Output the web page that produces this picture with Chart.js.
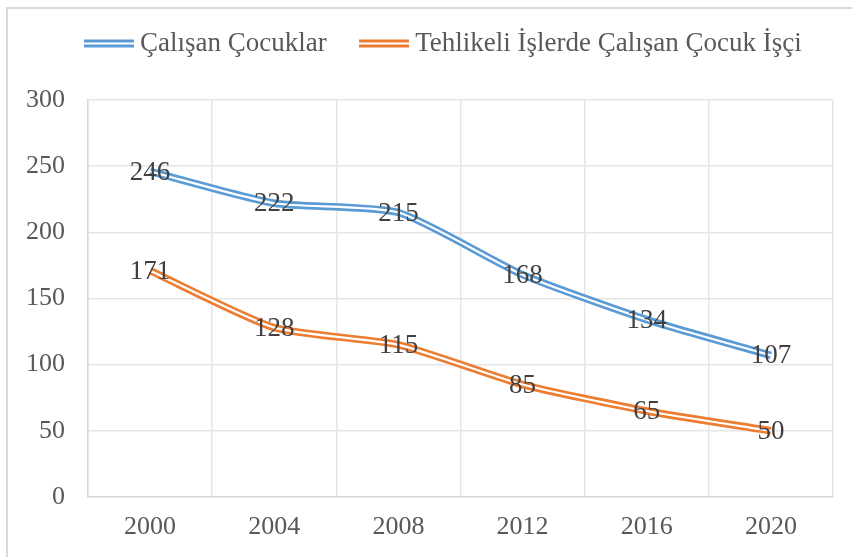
<!DOCTYPE html>
<html>
<head>
<meta charset="utf-8">
<script src="https://cdn.jsdelivr.net/npm/chart.js@4"></script>
<style>
html,body{margin:0;padding:0;background:#fff;}
#wrap{position:relative;width:852px;height:557px;}
</style>
</head>
<body>
<div id="wrap"><canvas id="c" width="852" height="557"></canvas></div>
<script>
const categories = ['2000', '2004', '2008', '2012', '2016', '2020'];
const seriesNames = ['Çalışan Çocuklar', 'Tehlikeli İşlerde Çalışan Çocuk İşçi'];
const calisanCocuklar = [246, 222, 215, 168, 134, 107];
const tehlikeliIsler = [171, 128, 115, 85, 65, 50];
const yTicks = [0, 50, 100, 150, 200, 250, 300];

const colors = ['#5b9bd5', '#ed7d31'];
const FONT = "'Liberation Serif', 'Times New Roman', serif";
const TENSION = 0.2;

function legendSwatch(color) {
  const c = document.createElement('canvas');
  c.width = 50; c.height = 10;
  const g = c.getContext('2d');
  g.fillStyle = color;
  g.fillRect(0, 1, 50, 3);
  g.fillRect(0, 6, 50, 3);
  return c;
}
const swatches = colors.map(legendSwatch);

const mainSets = [calisanCocuklar, tehlikeliIsler].map((d, i) => ({
  label: seriesNames[i], data: d, borderColor: colors[i], backgroundColor: colors[i],
  borderWidth: 7.5, pointRadius: 0, tension: TENSION, order: 2, fill: false, isMain: true
}));
const overlaySets = [calisanCocuklar, tehlikeliIsler].map((d, i) => ({
  label: '_ov' + i, data: d, borderColor: '#ffffff', borderWidth: 2.2,
  pointRadius: 0, tension: TENSION, order: 1, fill: false, isMain: false
}));

const bgPlugin = {
  id: 'bg',
  afterInit(chart) {
    const lg = chart.legend;
    if (lg) {
      const f = lg.fit.bind(lg);
      lg.fit = function () { f(); this.height = 100; };
    }
  },
  afterLayout(chart) {
    const lg = chart.legend;
    if (lg) {
      const dx = 35.5, dy = -10;
      lg.left += dx; lg.right += dx; lg.top += dy; lg.bottom += dy;
    }
  },
  beforeDraw(chart) {
    const ctx = chart.ctx;
    ctx.save();
    ctx.fillStyle = '#ffffff';
    ctx.fillRect(0, 0, chart.width, chart.height);
    ctx.fillStyle = '#d9d9d9';
    ctx.fillRect(6, 7, 2, chart.height - 7);
    ctx.fillRect(6, 7, chart.width - 6, 2);
    ctx.restore();
  }
};

const labelPlugin = {
  id: 'valueLabels',
  afterDatasetsDraw(chart) {
    const ctx = chart.ctx;
    ctx.save();
    ctx.font = '27px ' + FONT;
    ctx.fillStyle = '#404040';
    ctx.textAlign = 'center';
    ctx.textBaseline = 'middle';
    chart.data.datasets.forEach((ds, di) => {
      if (!ds.isMain) return;
      const meta = chart.getDatasetMeta(di);
      meta.data.forEach((pt, i) => {
        ctx.fillText(String(ds.data[i]), pt.x, pt.y + 1);
      });
    });
    ctx.restore();
  }
};

new Chart(document.getElementById('c'), {
  type: 'line',
  data: { labels: categories, datasets: [...mainSets, ...overlaySets] },
  plugins: [bgPlugin, labelPlugin],
  options: {
    responsive: false,
    animation: false,
    events: [],
    layout: { padding: { left: 16, right: 19, top: 0, bottom: 0 } },
    plugins: {
      tooltip: { enabled: false },
      legend: {
        position: 'top',
        align: 'start',
        labels: {
          font: { family: FONT, size: 27 },
          color: '#595959',
          padding: 40,
          usePointStyle: true,
          pointStyleWidth: 35,
          generateLabels(chart) {
            return chart.data.datasets.map((ds, i) => ({ ds, i }))
              .filter(o => o.ds.isMain)
              .map(o => ({
                text: o.ds.label, datasetIndex: o.i, pointStyle: swatches[o.i],
                fillStyle: colors[o.i], strokeStyle: colors[o.i], lineWidth: 0, hidden: false,
                fontColor: '#595959'
              }));
          }
        }
      }
    },
    scales: {
      x: {
        offset: true,
        grid: { offset: true, color: '#e6e6e6', lineWidth: 1.5, drawTicks: false },
        border: { color: '#d9d9d9', width: 1.5 },
        ticks: { font: { family: FONT, size: 26 }, color: '#595959', padding: 15, maxRotation: 0 },
        afterFit(s) { s.height = 60; }
      },
      y: {
        min: 0, max: 300,
        afterBuildTicks(s) { s.ticks = yTicks.map(v => ({ value: v })); },
        grid: { color: '#e6e6e6', lineWidth: 1.5, drawTicks: false },
        border: { color: '#d9d9d9', width: 1.5 },
        ticks: { font: { family: FONT, size: 26 }, color: '#595959', padding: 23 },
        afterFit(s) { s.width = 72; }
      }
    }
  }
});
</script>
</body>
</html>
